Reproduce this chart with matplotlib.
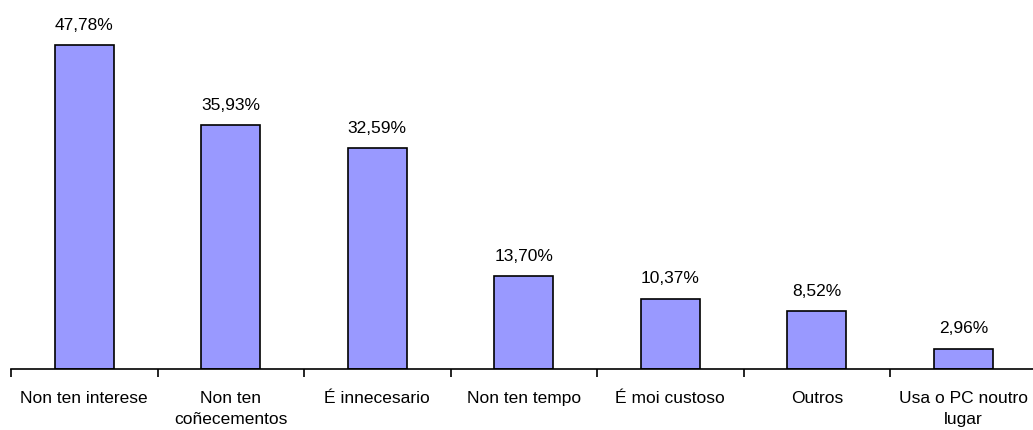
import matplotlib.pyplot as plt
import numpy as np

categories = ['Non ten interese', 'Non ten\ncoñecementos', 'É innecesario',
              'Non ten tempo', 'É moi custoso', 'Outros', 'Usa o PC noutro\nlugar']
values = [47.78, 35.93, 32.59, 13.70, 10.37, 8.52, 2.96]
labels = ['47,78%', '35,93%', '32,59%', '13,70%', '10,37%', '8,52%', '2,96%']

plt.rcParams['font.family'] = ['Liberation Sans', 'DejaVu Sans']

fig = plt.figure(figsize=(10.33, 4.3), dpi=100)
ax = fig.add_axes([11 / 1033, 61 / 430, 7 * 146.5 / 1033, 369 / 430])

x = np.arange(len(values))
ax.bar(x, values, width=0.4, color='#9999FF', edgecolor='black', linewidth=1.2)
for xi, v, lab in zip(x, values, labels):
    ax.annotate(lab, (xi, v), xytext=(0, 9), textcoords='offset points',
                ha='center', va='bottom', fontsize=12.5)

ax.set_xlim(-0.5, 6.5)
ax.set_ylim(0, 369 / 6.78)
for s in ['top', 'right', 'left']:
    ax.spines[s].set_visible(False)
ax.spines['bottom'].set_linewidth(1.2)
ax.set_yticks([])
ax.set_xticks(x)
ax.set_xticklabels(categories, fontsize=12.5, linespacing=1.5)
ax.tick_params(axis='x', which='major', length=0, pad=16)
ax.set_xticks(np.arange(-0.5, 7, 1), minor=True)
ax.tick_params(axis='x', which='minor', length=6, width=1.2, direction='out')

fig.savefig('out.png', dpi=100)
